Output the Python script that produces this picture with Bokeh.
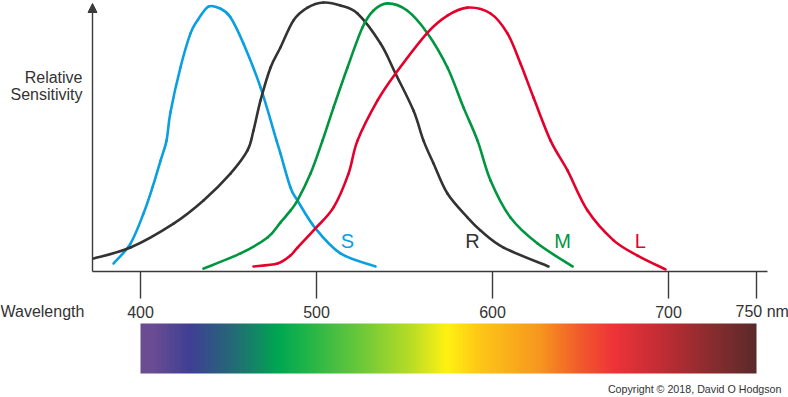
import numpy as np
from bokeh.plotting import figure
from bokeh.models import Range1d, Arrow, NormalHead
from bokeh.core.properties import value
from bokeh.embed import file_html
from bokeh.resources import INLINE

# ---------------- data (wavelength in nm, relative sensitivity) ----------------
s_nm = [384.7, 394.3, 401.7, 406.8, 411.4, 414.8, 417.0, 422.7, 428.4, 432.4, 438.6,
        445.5, 451.1, 458.5, 468.2, 477.3, 479.5, 485.2, 489.2, 499.4, 513.6, 533.5]
s_val = [3.0, 10.5, 21.8, 31.6, 41.7, 49.2, 59.8, 76.7, 89.5, 94.4, 99.6,
         98.8, 95.6, 85.7, 69.2, 49.2, 44.4, 31.6, 26.7, 16.2, 6.8, 1.9]

r_nm = [373.3, 394.3, 418.8, 435.8, 451.1, 460.8, 464.2, 468.2, 473.9, 479.5, 486.9,
        494.9, 504.0, 513.6, 523.3, 536.4, 544.9, 555.1, 560.8, 566.5, 574.4, 585.8,
        593.2, 606.3, 631.8]
r_val = [4.9, 9.0, 18.0, 26.7, 36.8, 45.5, 53.0, 64.3, 76.7, 84.2, 94.4,
         99.2, 101.1, 100.0, 97.0, 85.7, 74.4, 60.5, 49.2, 40.6, 29.3, 20.3,
         15.4, 9.0, 1.9]

m_nm = [435.8, 456.8, 472.2, 479.5, 485.2, 489.2, 496.6, 503.4, 509.7, 517.6, 526.1,
        532.4, 540.3, 551.5, 563.1, 574.4, 583.5, 591.5, 598.9, 610.2, 625.6, 645.5]
m_val = [1.1, 6.8, 12.8, 18.4, 22.9, 26.7, 36.8, 49.2, 61.7, 76.7, 91.7,
         98.1, 100.8, 98.1, 89.5, 76.7, 61.7, 49.2, 34.2, 20.3, 10.5, 1.9]

l_nm = [464.2, 477.8, 485.2, 489.2, 499.4, 509.7, 518.2, 523.3, 534.7, 544.9, 563.1,
        574.4, 585.8, 598.9, 608.5, 615.9, 623.3, 633.0, 642.6, 654.0, 668.8, 682.4, 698.3]
l_val = [1.9, 3.0, 6.0, 9.0, 16.2, 24.1, 36.8, 49.2, 64.3, 74.4, 89.8,
         96.2, 99.2, 97.0, 89.5, 78.2, 65.4, 49.2, 38.0, 22.9, 11.7, 6.0, 0.8]

curve_names = ["S", "R", "M", "L"]
curve_colors = ["#0a9fe0", "#333333", "#00963f", "#e4002b"]
curve_label_nm = [517.6, 588.6, 639.8, 684.0]

tick_values = [400, 500, 600, 700, 750]
tick_labels = ["400", "500", "600", "700", "750"]

spectrum_nm = [400, 407, 428, 453, 478, 493, 525, 553, 574, 592, 627, 650, 669, 697, 724, 750]
spectrum_colors = ["#6a4c93", "#6a4c93", "#3f3f94", "#236b76", "#00a651", "#1db34a",
                   "#6cc83a", "#b6dc25", "#fff212", "#fdc817", "#f7961e", "#f15a2b",
                   "#ee3338", "#c02c34", "#8a2c2e", "#5a2a2a"]

# ---------------- layout ----------------
W, H = 788, 397
PXNM = 1.76                 # pixels per nm
X0 = 400 - 140 / PXNM
X1 = X0 + W / PXNM
K = 2.66                    # pixels per sensitivity unit
BASE = 271                  # baseline, canvas px from top
Y1 = BASE / K
Y0 = Y1 - H / K

def vy(py):
    return (BASE - py) / K

def vx(px):
    return X0 + px / PXNM

AX_NM = vx(92)              # position of vertical axis
AX_END = vx(767)
FONT = value("Liberation Sans")
TXT = "#333333"
AXC = "#3a3a3a"

p = figure(width=W, height=H, x_range=Range1d(X0, X1), y_range=Range1d(Y0, Y1),
           output_backend="svg", toolbar_location=None,
           x_axis_type=None, y_axis_type=None, min_border=0)
p.outline_line_color = None
p.background_fill_color = "white"
p.border_fill_color = "white"


def smooth_curve(xs, ys, color):
    """Draw a smooth Catmull-Rom curve through the read points using bezier segments."""
    x = np.asarray(xs, float)
    y = np.asarray(ys, float)
    xe = np.concatenate([[x[0]], x, [x[-1]]])
    ye = np.concatenate([[y[0]], y, [y[-1]]])
    x0, y0 = x[:-1], y[:-1]
    x1, y1 = x[1:], y[1:]
    cx0 = x0 + (xe[2:-1] - xe[:-3]) / 6.0
    cy0 = y0 + (ye[2:-1] - ye[:-3]) / 6.0
    cx1 = x1 - (xe[3:] - xe[1:-2]) / 6.0
    cy1 = y1 - (ye[3:] - ye[1:-2]) / 6.0
    p.bezier(x0=x0, y0=y0, x1=x1, y1=y1, cx0=cx0, cy0=cy0, cx1=cx1, cy1=cy1,
             line_color=color, line_width=2.6, line_cap="round")


for xs, ys, c in [(s_nm, s_val, curve_colors[0]), (r_nm, r_val, curve_colors[1]),
                  (m_nm, m_val, curve_colors[2]), (l_nm, l_val, curve_colors[3])]:
    smooth_curve(xs, ys, c)

# curve labels
p.text(x=curve_label_nm, y=[vy(240)] * 4, text=curve_names, text_color=curve_colors,
       text_font=FONT, text_font_size="20px", text_align="center",
       text_baseline="middle")

# axes
p.segment(x0=[AX_NM], y0=[0], x1=[AX_END], y1=[0], line_color=AXC, line_width=1.4)
p.add_layout(Arrow(end=NormalHead(size=9, fill_color=AXC, line_color=AXC, line_width=1),
                   x_start=AX_NM, y_start=0, x_end=AX_NM, y_end=vy(3),
                   line_color=AXC, line_width=1.4))
p.segment(x0=tick_values, y0=[0] * len(tick_values), x1=tick_values,
          y1=[vy(298)] * len(tick_values), line_color=AXC, line_width=1.4)

# tick labels
p.text(x=tick_values[:-1], y=[vy(311)] * (len(tick_values) - 1), text=tick_labels[:-1],
       text_font=FONT, text_font_size="16px", text_color=TXT,
       text_align="center", text_baseline="middle")
p.text(x=[tick_values[-1]], y=[vy(311)], text=[tick_labels[-1] + " nm"], x_offset=-21,
       text_font=FONT, text_font_size="16px", text_color=TXT,
       text_align="left", text_baseline="middle")
p.text(x=[X0], y=[vy(311)], text=["Wavelength"], x_offset=0,
       text_font=FONT, text_font_size="16px", text_color=TXT,
       text_align="left", text_baseline="middle")

# y-axis title
p.text(x=[vx(82), vx(82)], y=[vy(77), vy(94)], text=["Relative", "Sensitivity"],
       text_font=FONT, text_font_size="16px", text_color=TXT,
       text_align="right", text_baseline="alphabetic")

# spectrum bar
n = 700
grid = np.linspace(spectrum_nm[0], spectrum_nm[-1], n)
rgb = np.array([[int(c[i:i + 2], 16) for i in (1, 3, 5)] for c in spectrum_colors], dtype=float)
img = np.empty((1, n), dtype=np.uint32)
view = img.view(dtype=np.uint8).reshape((1, n, 4))
for ch in range(3):
    view[0, :, ch] = np.interp(grid, spectrum_nm, rgb[:, ch]).round().astype(np.uint8)
view[0, :, 3] = 255
bar_top, bar_bot = vy(323), vy(373)
p.image_rgba(image=[img], x=spectrum_nm[0], y=bar_bot,
             dw=spectrum_nm[-1] - spectrum_nm[0], dh=bar_top - bar_bot)

# copyright
p.text(x=[vx(781)], y=[vy(388)], text=["Copyright \u00a9 2018, David O Hodgson"],
       text_font=FONT, text_font_size="10.7px", text_color=TXT,
       text_align="right", text_baseline="alphabetic")

open("out.html", "w").write(file_html(p, INLINE))
